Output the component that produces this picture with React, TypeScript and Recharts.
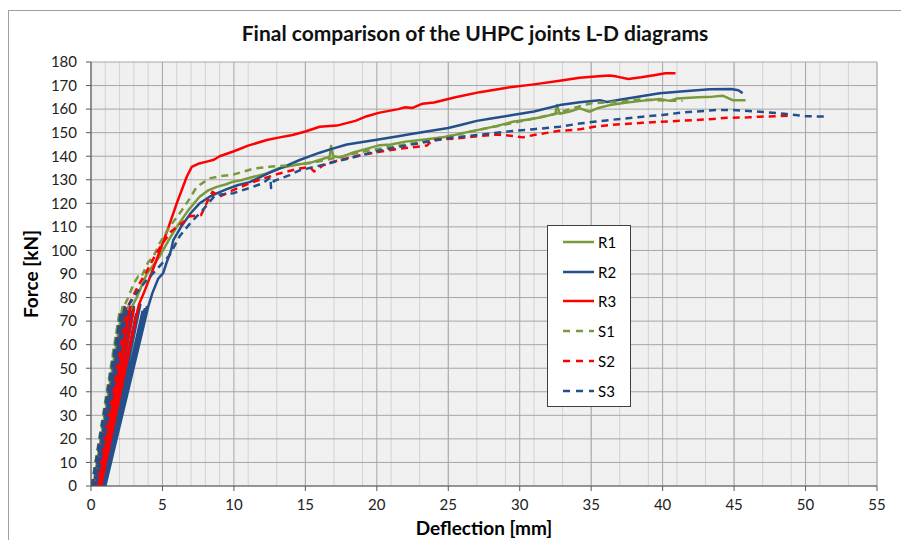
import React from "react";
import {
  LineChart,
  Line,
  XAxis,
  YAxis,
  CartesianGrid,
  Legend,
} from "recharts";

// deflection [mm], force [kN]
const r1: [number, number][] = [
  [0.28, 0], [2.4, 74], [0.38, 0], [2.6, 76], [0.5, 0], [2.85, 76],
  [3.2, 80], [3.9, 90], [4.4, 94], [4.8, 97.5], [5.4, 104], [6.0, 110], [6.8, 117], [7.6, 122.8],
  [8.2, 125.5], [8.8, 127], [9.4, 128], [9.95, 129.2], [10.5, 129.8], [11.2, 131], [12.3, 132.7],
  [13.2, 135], [14.2, 136.2], [15.5, 137.5], [16.7, 139.8], [16.8, 144.3], [16.95, 140], [17.5, 139.5],
  [18.3, 141.5], [19.2, 143], [20.2, 144.7], [21, 145], [22, 146.2], [23.5, 147.2], [24.9, 148.3],
  [26, 149.8], [27.2, 151.3], [28.5, 153], [29.5, 154.6], [30.5, 155.5], [31.5, 156.5], [32.5, 158],
  [32.6, 161.7], [32.8, 158], [33.5, 159], [34.2, 160.3], [34.9, 158.9], [35.5, 160.5], [36.3, 161.7],
  [37.5, 162.8], [38.5, 163.5], [39.8, 164.3], [40.5, 163.5], [41, 164.5], [42.5, 165], [43.5, 165.3],
  [44.2, 165.7], [44.9, 163.8], [45.8, 163.8],
];

const r2: [number, number][] = [
  [0.5, 0], [2.85, 74], [0.6, 0], [3.0, 76], [0.65, 0], [3.15, 73], [0.75, 0], [3.3, 75], [0.8, 0],
  [3.45, 77], [0.85, 0], [3.6, 74], [0.9, 0], [3.75, 75], [0.95, 0], [3.9, 76], [1.0, 0], [4.0, 76],
  [4.3, 82], [4.7, 88], [5.05, 90.4], [5.3, 95], [5.6, 100], [5.76, 104.4], [6.3, 110], [7.0, 116],
  [7.6, 120], [8.3, 122.8], [8.8, 124.2], [9.5, 126], [10.3, 127.8], [11.1, 129], [12.5, 133],
  [13.5, 135.5], [14.6, 138.4], [16, 141.5], [16.8, 143], [17.9, 145], [19, 146], [20, 147],
  [21.5, 148.5], [22.5, 149.5], [23.7, 150.7], [25, 152], [26, 153.5], [27, 155], [28, 156],
  [29.5, 157.5], [31, 159], [32.8, 161.7], [34.2, 162.9], [35.6, 163.8], [36.1, 163], [37, 164],
  [38.5, 165.5], [39.8, 166.7], [41.5, 167.6], [43.3, 168.4], [44.8, 168.5], [45.3, 168], [45.6, 166.8],
];

const r3: [number, number][] = [
  [0.35, 0], [2.5, 74], [0.5, 0], [2.75, 76], [0.6, 0], [3.0, 75], [0.7, 0], [3.35, 77],
  [3.7, 82], [4.24, 90.4], [4.83, 100], [5.4, 109.5], [6.0, 120],
  [6.7, 131.3], [7.05, 135.5], [7.5, 136.8], [8.1, 137.7], [8.6, 138.5], [9.0, 140], [9.95, 142],
  [11, 144.5], [12.3, 146.9], [13.2, 148], [14.1, 149], [15, 150.5], [16, 152.5], [17.2, 153],
  [18.5, 155], [19.3, 157], [20.2, 158.5], [21.5, 160], [22, 160.8], [22.5, 160.5], [23.2, 162.3],
  [24, 162.8], [25.5, 165], [27.2, 167.2], [29, 169], [31, 170.5], [32.8, 172], [34.2, 173.3],
  [35.5, 174], [36.3, 174.3], [36.8, 173.8], [37.6, 172.8], [38.5, 173.5], [39.5, 174.5],
  [40.2, 175.2], [40.9, 175.2],
];

const s1: [number, number][] = [
  [0.05, 0], [2.0, 74], [0.15, 0], [2.2, 76], [0.25, 0], [2.3, 76], [2.6, 80], [3.0, 86],
  [3.3, 89], [3.5, 88.5], [4.0, 95], [4.36, 97.3], [4.8, 103], [5.5, 110], [6.35, 117], [6.9, 122],
  [7.4, 127], [8.3, 130.6], [9.0, 131.5], [9.95, 132.2], [10.7, 133.5], [11.4, 134.8], [12.5, 135.5],
  [13.5, 136], [14.5, 136.5], [15.5, 137.2], [16.5, 138.5], [18, 140.5], [19.5, 142.5], [21, 144],
  [23, 146], [25, 148.5], [27, 151], [29, 153.5], [31, 156], [32.5, 158], [33.5, 160], [35, 162.5],
  [36, 162.8], [37, 163.2], [38.4, 164.1], [39.5, 163.8], [40.5, 163.6], [41.4, 163.5],
];

const s2: [number, number][] = [
  [0.1, 0], [2.2, 74], [0.25, 0], [2.45, 76], [0.4, 0], [2.65, 77], [3.3, 85],
  [3.8, 90], [4.5, 98], [5.0, 103], [5.6, 108], [6.45, 112], [6.9, 114.5], [7.7, 115], [8.2, 121.5],
  [8.5, 124.9], [9.0, 122.8], [9.7, 125], [11.1, 128.5], [11.8, 130], [13.2, 132.7], [14.6, 134.8],
  [15.3, 135.5], [15.6, 133.5], [16.2, 136], [16.9, 137.6], [18.5, 140], [20.2, 141.9], [22, 143.5],
  [23.5, 144.5], [23.9, 147], [25.5, 147.5], [27.2, 148.6], [28.5, 149.2], [29.5, 148.6], [30.2, 148],
  [31, 149], [32.8, 150.8], [34.2, 151.4], [35.2, 152.5], [36.8, 153.5], [38.6, 154.2], [40.5, 154.8],
  [42.1, 155.3], [43.5, 155.8], [44.5, 156.3], [46, 156.5], [46.8, 156.8], [48, 157], [49.1, 157.2],
];

const s3: [number, number][] = [
  [0.05, 0], [2.1, 74], [0.2, 0], [2.35, 76], [0.35, 0], [2.55, 76], [3.2, 82],
  [3.7, 86], [4.3, 90], [4.9, 94], [5.5, 98], [6.2, 106], [7.0, 112], [7.8, 117], [8.7, 123.5],
  [9.95, 124.3], [11.1, 126.5], [12.0, 128.5], [12.55, 131], [12.6, 126.5], [12.8, 129.5], [13.9, 132],
  [14.6, 134], [16, 136], [18, 139], [20.2, 142.4], [22, 144.5], [24.9, 147.6], [27, 149], [29.5, 150.7],
  [31, 151.5], [32.8, 152.5], [34.2, 153.9], [35.2, 154.6], [36.5, 155.5], [38.6, 156.8], [40, 157.5],
  [41.4, 158.6], [43.8, 159.6], [44.9, 159.6], [46.8, 158.9], [48.7, 157.9], [50.1, 157], [51.5, 156.8],
];

const xTicks = [0, 5, 10, 15, 20, 25, 30, 35, 40, 45, 50, 55];
const xMinor = Array.from({ length: 56 }, (_, i) => i);
const yTicks = [0, 10, 20, 30, 40, 50, 60, 70, 80, 90, 100, 110, 120, 130, 140, 150, 160, 170, 180];

const GREEN = "#789a3c";
const BLUE = "#234f8a";
const RED = "#ff0000";

const series = [
  { name: "R1", pts: r1, color: GREEN, dash: undefined },
  { name: "R2", pts: r2, color: BLUE, dash: undefined },
  { name: "R3", pts: r3, color: RED, dash: undefined },
  { name: "S1", pts: s1, color: GREEN, dash: "7 5" },
  { name: "S2", pts: s2, color: RED, dash: "7 5" },
  { name: "S3", pts: s3, color: BLUE, dash: "7 5" },
];

const FONT = "Lato, 'Open Sans', sans-serif";

function LegendBox() {
  return (
    <div
      style={{
        width: 82,
        height: 179,
        background: "#fff",
        border: "1px solid #404040",
        boxSizing: "content-box",
        paddingTop: 1,
        fontFamily: FONT,
        fontSize: 15,
      }}
    >
      {series.map((s) => (
        <div key={s.name} style={{ height: 29.8, display: "flex", alignItems: "center" }}>
          <svg width={50} height={6}>
            <line
              x1={15}
              x2={46}
              y1={3}
              y2={3}
              stroke={s.color}
              strokeWidth={2.5}
              strokeDasharray={s.dash ? "7 6" : undefined}
            />
          </svg>
          <span style={{ color: "#000" }}>{s.name}</span>
        </div>
      ))}
    </div>
  );
}

export default function App() {
  return (
    <div style={{ position: "relative", width: 901, height: 540, overflow: "hidden", background: "#fff" }}>
      <style>{"body{margin:0}"}</style>
      <div
        style={{
          position: "absolute",
          left: 8,
          top: 10,
          width: 1000,
          height: 1000,
          border: "1px solid #a0a0a0",
        }}
      />
      <div
        style={{
          position: "absolute",
          left: 475,
          top: 20,
          transform: "translateX(-50%)",
          whiteSpace: "nowrap",
          fontFamily: FONT,
          fontWeight: 700,
          fontSize: 21,
          color: "#111",
        }}
      >
        Final comparison of the UHPC joints L-D diagrams
      </div>
      <div style={{ position: "absolute", left: 0, top: 0 }}>
        <LineChart width={901} height={540} margin={{ top: 62, right: 24, bottom: 0, left: 0 }}>
          <CartesianGrid
            horizontal={false}
            verticalValues={xMinor}
            stroke="#d2d2d2"
            fill="#f0f0f0"
            strokeWidth={1}
          />
          <CartesianGrid
            verticalValues={xTicks}
            horizontalValues={yTicks}
            stroke="#a6a6a6"
            strokeWidth={1}
          />
          <XAxis
            dataKey="x"
            type="number"
            domain={[0, 55]}
            ticks={xTicks}
            height={54}
            allowDataOverflow
            stroke="#595959"
            tickSize={5}
            tickMargin={8}
            tick={{ fill: "#222", fontSize: 15, fontFamily: FONT }}
            label={{
              value: "Deflection [mm]",
              position: "center",
              dy: 15,
              style: { fontFamily: FONT, fontWeight: 700, fontSize: 19, fill: "#000" },
            }}
          />
          <YAxis
            type="number"
            domain={[0, 180]}
            ticks={yTicks}
            width={91}
            allowDataOverflow
            stroke="#595959"
            tickSize={5}
            tickMargin={9}
            tick={{ fill: "#222", fontSize: 15, fontFamily: FONT }}
            label={{
              value: "Force [kN]",
              angle: -90,
              position: "center",
              dx: -14,
              style: { fontFamily: FONT, fontWeight: 700, fontSize: 19, fill: "#000", textAnchor: "middle" },
            }}
          />
          {series.map((s) => (
            <Line
              key={s.name}
              name={s.name}
              data={s.pts.map(([x, y]) => ({ x, y }))}
              dataKey="y"
              type="linear"
              stroke={s.color}
              strokeWidth={2.5}
              strokeDasharray={s.dash}
              strokeLinejoin="round"
              dot={false}
              activeDot={false}
              isAnimationActive={false}
            />
          ))}
          <Legend
            layout="vertical"
            align="center"
            verticalAlign="middle"
            wrapperStyle={{ position: "absolute", left: 547, top: 225, width: 84, height: 181 }}
            content={() => <LegendBox />}
          />
        </LineChart>
      </div>
    </div>
  );
}
